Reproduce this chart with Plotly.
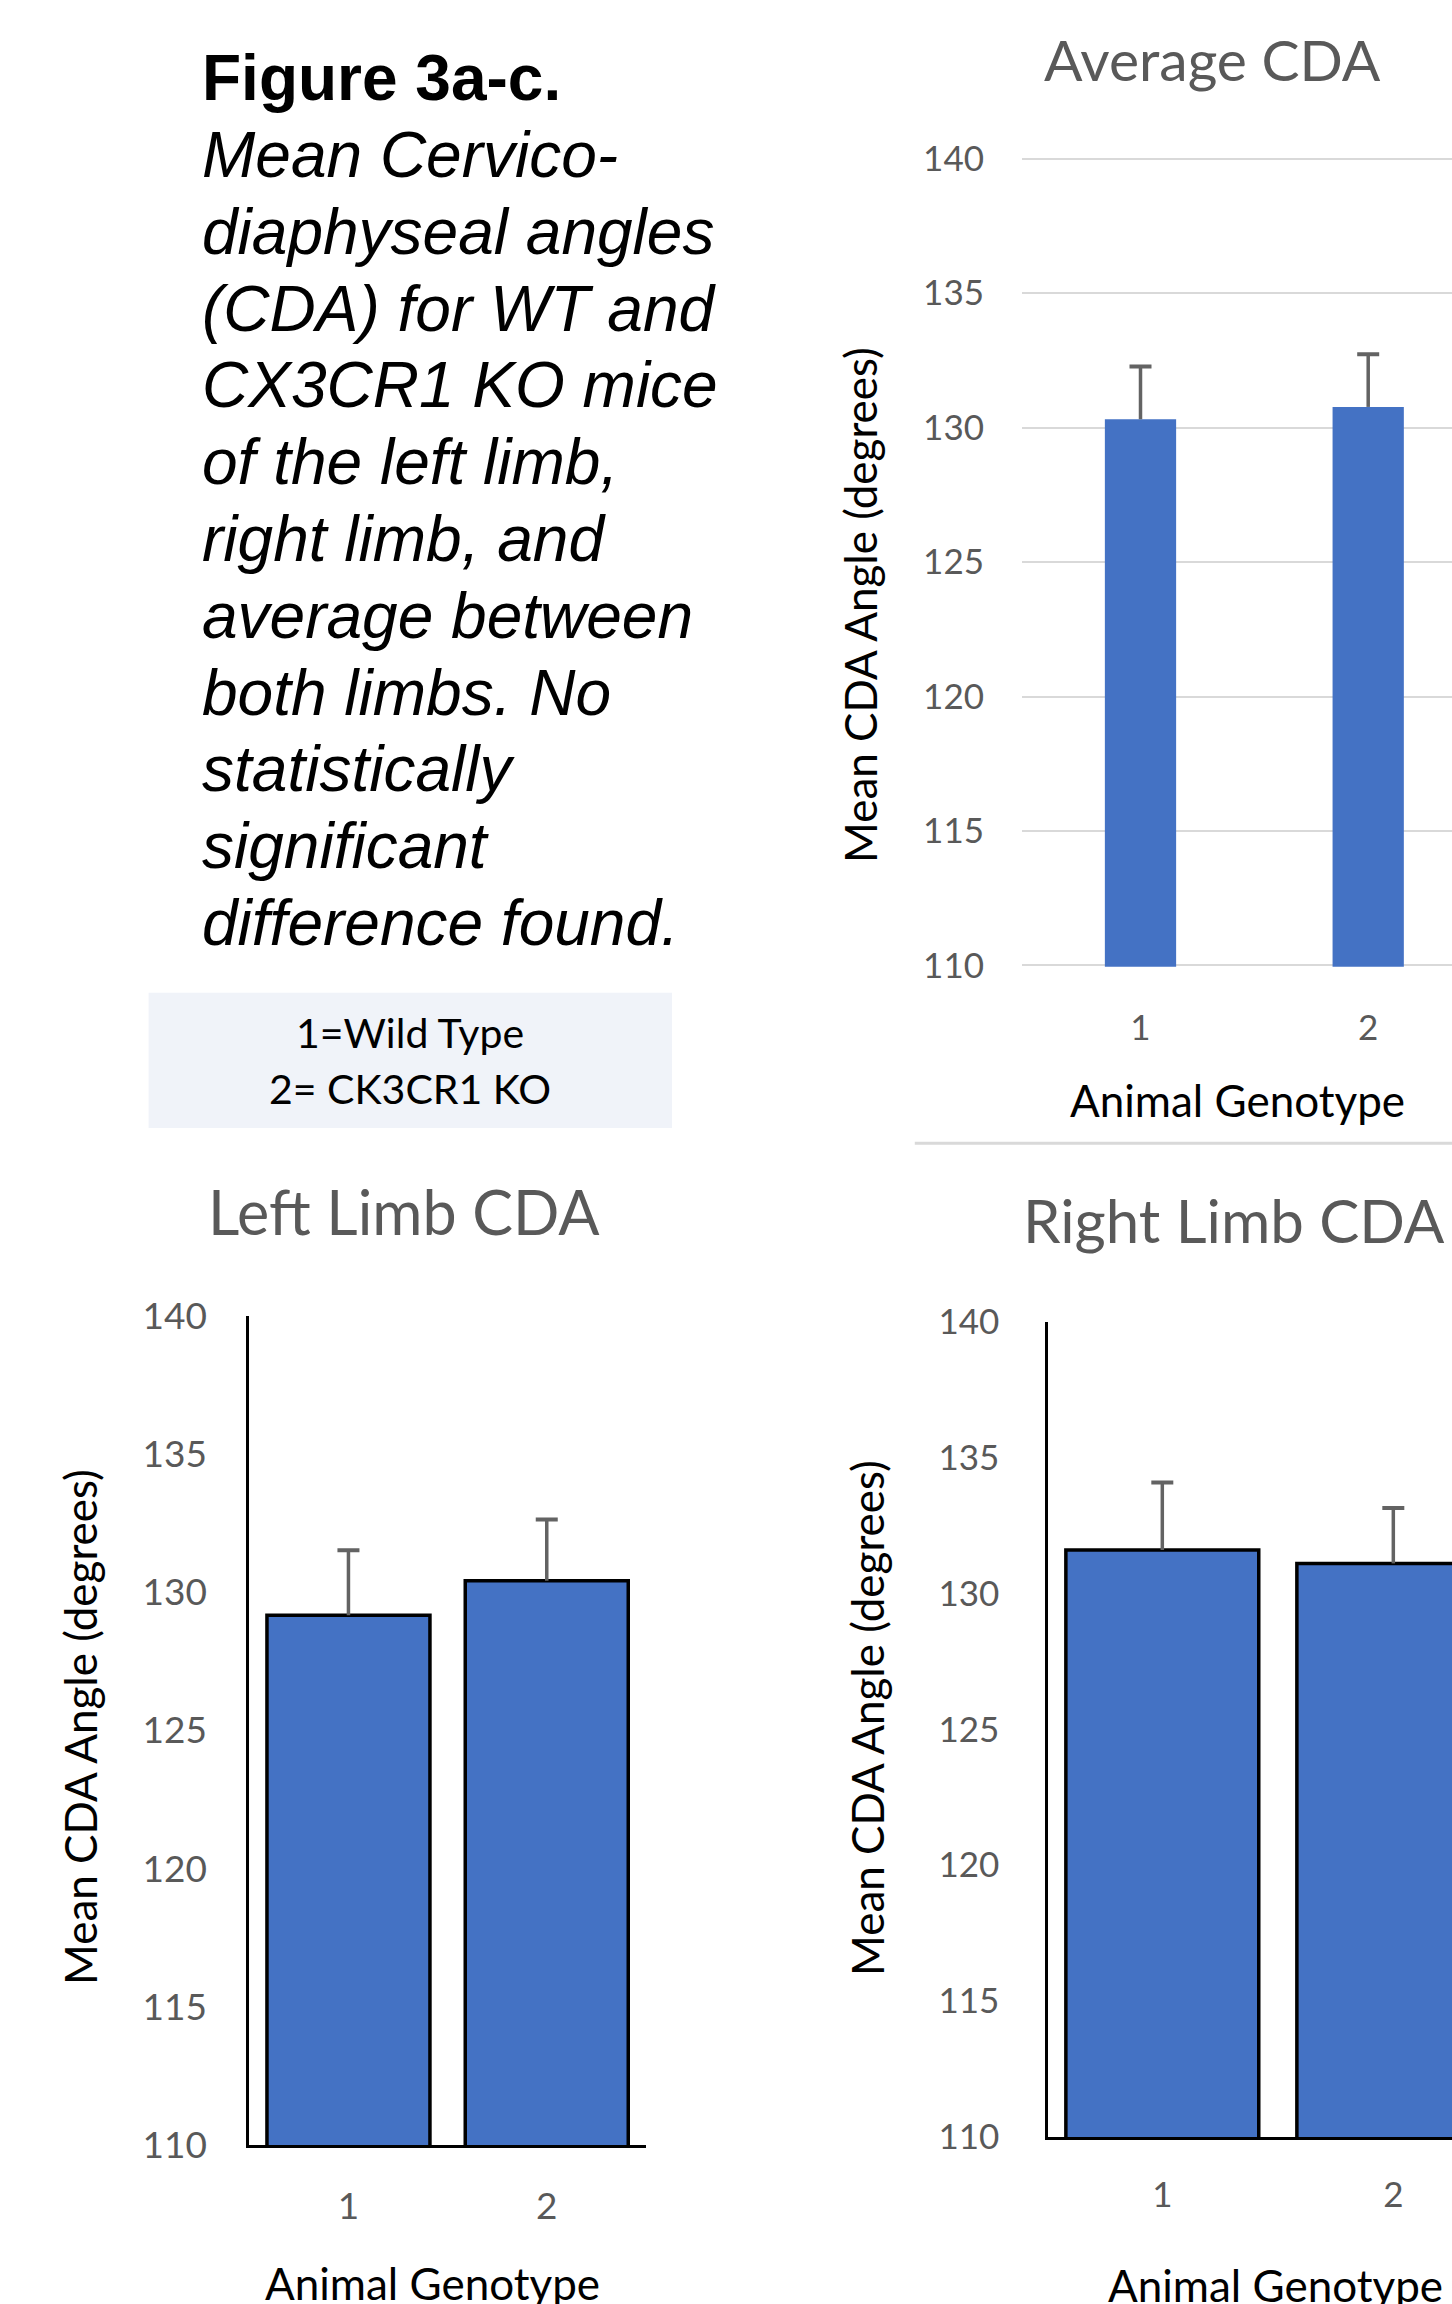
import plotly.graph_objects as go

# ---------------- data ----------------
genotype = [1, 2]
genotype_labels = ["1", "2"]
y_ticks = [110, 115, 120, 125, 130, 135, 140]

avg_cda = [130.31, 130.77]
avg_err = [1.96, 1.96]

left_cda = [129.17, 130.42]
left_err = [2.35, 2.22]

right_cda = [131.59, 131.10]
right_err = [2.49, 2.04]

caption_lines = [
    "Figure 3a-c.",
    "Mean Cervico-",
    "diaphyseal angles",
    "(CDA) for WT and",
    "CX3CR1 KO mice",
    "of the left limb,",
    "right limb, and",
    "average between",
    "both limbs. No",
    "statistically",
    "significant",
    "difference found.",
]
legend_lines = ["1=Wild Type", "2= CK3CR1 KO"]

# ---------------- helpers ----------------
W, H = 1452, 2304


def px_x(p):
    return p / W


def px_y(p):
    return 1 - p / H


BAR_BLUE = "#4472C4"
ERR_GREY = "#636363"
TICK_GREY = "#595959"
CHART_FONT = "Lato"

fig = go.Figure()


def add_chart(xa, ya, vals, errs, bar_width, outline):
    xname = "x" if xa == 1 else f"x{xa}"
    yname = "y" if ya == 1 else f"y{ya}"
    fig.add_trace(go.Bar(
        x=genotype, y=vals, width=bar_width,
        marker=dict(color=BAR_BLUE,
                    line=dict(color="black", width=3.5 if outline else 0)),
        error_y=dict(type="data", symmetric=False, array=errs,
                     arrayminus=[0] * len(errs), width=0,
                     thickness=3.5, color=ERR_GREY),
        xaxis=xname, yaxis=yname, hoverinfo="skip",
    ))
    tops = [v + e for v, e in zip(vals, errs)]
    fig.add_trace(go.Scatter(
        x=genotype, y=tops, mode="markers",
        marker=dict(size=1, opacity=0),
        error_y=dict(type="data", array=[0] * len(errs), width=11,
                     thickness=4, color=ERR_GREY),
        xaxis=xname, yaxis=yname, hoverinfo="skip",
    ))


add_chart(1, 1, avg_cda, avg_err, 0.313, False)
add_chart(2, 2, left_cda, left_err, 0.822, True)
add_chart(3, 3, right_cda, right_err, 0.835, True)

tick_font_top = dict(family=CHART_FONT, size=35, color=TICK_GREY)
tick_font_left = dict(family=CHART_FONT, size=37, color=TICK_GREY)
tick_font_right = dict(family=CHART_FONT, size=35, color=TICK_GREY)
transparent = "rgba(0,0,0,0)"

# top chart: pad range a hair so the 110/140 gridlines are kept
pad_u = 0.05
top_px_per_u = (965.5 - 158.7) / 30.0

fig.update_layout(
    template="none",
    width=W, height=H,
    margin=dict(l=0, r=0, t=0, b=0, pad=0, autoexpand=False),
    paper_bgcolor="white", plot_bgcolor="white",
    showlegend=False,
    # --- top chart: Average CDA ---
    xaxis=dict(domain=[px_x(1022), 1.0], range=[0.4796, 2.368],
               tickvals=genotype, ticktext=genotype_labels,
               showgrid=False, zeroline=False, showline=False,
               ticks="outside", ticklen=30, tickcolor=transparent,
               tickfont=tick_font_top, anchor="y", fixedrange=True,
               automargin=False),
    yaxis=dict(domain=[px_y(965.5 + pad_u * top_px_per_u),
                       px_y(158.7 - pad_u * top_px_per_u)],
               range=[110 - pad_u, 140 + pad_u],
               tickvals=y_ticks, showgrid=True, gridcolor="#D9D9D9",
               gridwidth=2, zeroline=False, showline=False,
               ticks="outside", ticklen=30, tickcolor=transparent,
               tickfont=tick_font_top, anchor="x", fixedrange=True,
               automargin=False),
    # --- bottom-left chart: Left Limb CDA ---
    xaxis2=dict(domain=[px_x(249.3), px_x(645.9)], range=[0.5, 2.5],
                tickvals=genotype, ticktext=genotype_labels,
                showgrid=False, zeroline=False, showline=True,
                linecolor="black", linewidth=3,
                ticks="outside", ticklen=27, tickcolor=transparent,
                tickfont=tick_font_left, anchor="y2", fixedrange=True,
                automargin=False),
    yaxis2=dict(domain=[px_y(2145), px_y(1316)], range=[110, 140],
                tickvals=y_ticks, showgrid=False, zeroline=False,
                showline=True, linecolor="black", linewidth=3,
                ticks="outside", ticklen=32, tickcolor=transparent,
                tickfont=tick_font_left, anchor="x2", fixedrange=True,
                automargin=False),
    # --- bottom-right chart: Right Limb CDA ---
    xaxis3=dict(domain=[px_x(1048.3), 1.0], range=[0.5065, 2.254],
                tickvals=genotype, ticktext=genotype_labels,
                showgrid=False, zeroline=False, showline=True,
                linecolor="black", linewidth=3,
                ticks="outside", ticklen=25, tickcolor=transparent,
                tickfont=tick_font_right, anchor="y3", fixedrange=True,
                automargin=False),
    yaxis3=dict(domain=[px_y(2137), px_y(1321.5)], range=[110, 140],
                tickvals=y_ticks, showgrid=False, zeroline=False,
                showline=True, linecolor="black", linewidth=3,
                ticks="outside", ticklen=39, tickcolor=transparent,
                tickfont=tick_font_right, anchor="x3", fixedrange=True,
                automargin=False),
)

annotations = []

# caption block (Arial-like)
for i, line in enumerate(caption_lines):
    txt = f"<b>{line}</b>" if i == 0 else f"<i>{line}</i>"
    annotations.append(dict(
        text=txt, xref="paper", yref="paper",
        x=px_x(200), y=px_y(78.2 + i * 76.8),
        xanchor="left", yanchor="middle", showarrow=False,
        font=dict(family="Liberation Sans", size=64, color="black"),
    ))

# legend text box
for line, yc in zip(legend_lines, [1032, 1088]):
    annotations.append(dict(
        text=line, xref="paper", yref="paper",
        x=px_x(410.3), y=px_y(yc), xanchor="center", yanchor="middle",
        showarrow=False,
        font=dict(family=CHART_FONT, size=41, color="black"),
    ))

# chart titles
for txt, xc, yc, fs in [("Average CDA", 1212, 59, 57),
                        ("Left Limb CDA", 404, 1211, 61),
                        ("Right Limb CDA", 1234, 1220, 60)]:
    annotations.append(dict(
        text=txt, xref="paper", yref="paper",
        x=px_x(xc), y=px_y(yc), xanchor="center", yanchor="middle",
        showarrow=False,
        font=dict(family=CHART_FONT, size=fs, color=TICK_GREY),
    ))

# x axis titles (the bottom two are cropped by the page edge, as in the source)
for xc, yc in [(1237, 1100), (432, 2283), (1275, 2285)]:
    annotations.append(dict(
        text="Animal Genotype", xref="paper", yref="paper",
        x=px_x(xc), y=px_y(yc), xanchor="center", yanchor="middle",
        showarrow=False,
        font=dict(family=CHART_FONT, size=44, color="black"),
    ))

# y axis titles
for xc, yc in [(860, 605), (80, 1727), (867, 1718)]:
    annotations.append(dict(
        text="Mean CDA Angle (degrees)", xref="paper", yref="paper",
        x=px_x(xc), y=px_y(yc), xanchor="center", yanchor="middle",
        textangle=-90, showarrow=False,
        font=dict(family=CHART_FONT, size=44, color="black"),
    ))

fig.update_layout(annotations=annotations)

shapes = [
    # legend box background
    dict(type="rect", xref="paper", yref="paper",
         x0=px_x(148.6), x1=px_x(672), y0=px_y(1128), y1=px_y(992.7),
         fillcolor="#F0F3F9", line=dict(width=0), layer="below"),
    # border line under top chart
    dict(type="line", xref="paper", yref="paper",
         x0=px_x(914.8), x1=1.0, y0=px_y(1143.3), y1=px_y(1143.3),
         line=dict(color="#D9D9D9", width=3)),
]
fig.update_layout(shapes=shapes)

fig.write_html(
    "out.html",
    config={"displayModeBar": False},
    post_script="document.body.style.margin='0';document.body.style.padding='0';",
)
